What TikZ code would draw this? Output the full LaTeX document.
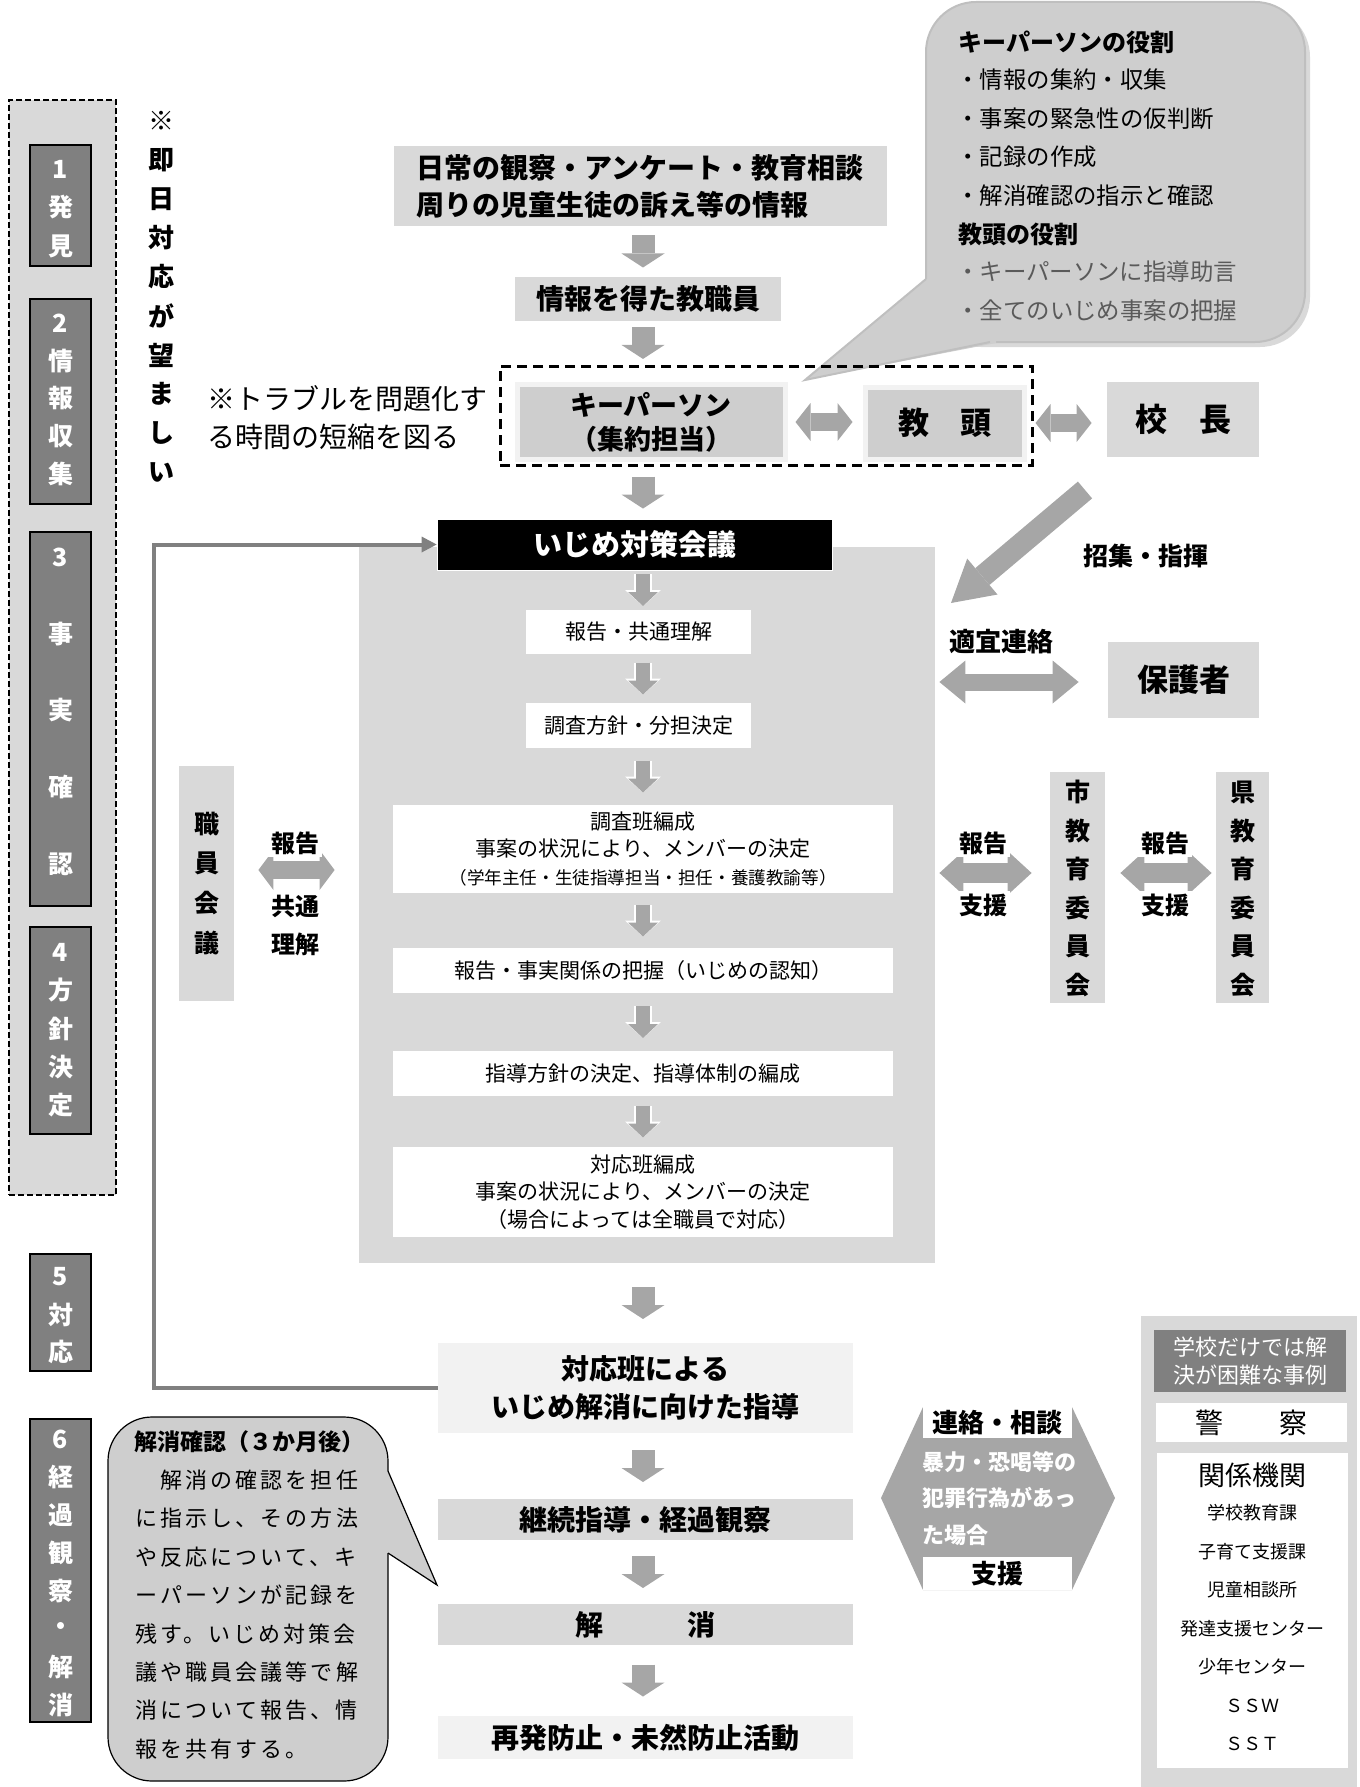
\documentclass[tikz,border=0pt]{standalone}
\usepackage{fontspec}
\setmainfont{Noto Sans CJK JP}
\newfontfamily\spacedjp{Noto Sans CJK JP}[LetterSpace=14]
\usetikzlibrary{arrows.meta,calc}

\definecolor{panelgray}{RGB}{217,217,217}
\definecolor{boxgray}{RGB}{206,206,206}
\definecolor{arrowgray}{RGB}{166,166,166}
\definecolor{stagegray}{RGB}{128,128,128}
\definecolor{palegray}{RGB}{242,242,242}
\definecolor{notegray}{RGB}{90,90,90}

\newcommand\jsize[2]{\fontsize{#1pt}{#2pt}\selectfont}

\tikzset{
	boxsize/.style 2 args={minimum width=#1*0.5pt, minimum height=#2*0.5pt},
	plainbox/.style={rectangle, inner sep=0pt, align=center},
	greybox/.style={plainbox, fill=panelgray, font=\jsize{14}{18.5}\bfseries},
	palebox/.style={plainbox, fill=palegray, font=\jsize{14}{19}\bfseries},
	whitebox/.style={plainbox, fill=white, font=\jsize{10.5}{13.75}},
	framebox/.style={plainbox, fill=boxgray, draw=palegray, line width=2.5pt, font=\jsize{13.5}{17}\bfseries},
	stagebox/.style={plainbox, fill=stagegray, draw=black, line width=1pt, minimum width=30.5pt},
	stagetext/.style={text=white, inner sep=0pt, font=\jsize{12.5}{15}\bfseries},
	vtext/.style={inner sep=0pt, font=\jsize{12.5}{15}\bfseries},
	arrlabel/.style={fill=white, inner sep=1.5pt, font=\jsize{12}{15}\bfseries},
	roletitle/.style={anchor=west, inner sep=0pt, font=\jsize{12}{15}\bfseries},
	roleitem/.style={anchor=west, inner sep=0pt, font=\jsize{11.7}{15}},
	mainarr/.style={draw=arrowgray, line width=11.5pt, arrows={-Triangle[length=7pt,width=21.5pt,line width=0pt]}},
	smallarr/.style={draw=arrowgray, line width=7pt, arrows={-Triangle[length=7pt,width=15pt,line width=0pt]},
		preaction={draw=white, line width=9pt, arrows={-Triangle[length=8pt,width=18pt,line width=0pt]}}},
	dblarr/.style n args={3}{draw=arrowgray, line width=#1,
		arrows={Triangle[length=#3,width=#2,line width=0pt]-Triangle[length=#3,width=#2,line width=0pt]}},
	bigarr/.style={draw=arrowgray, line width=11pt, arrows={-Triangle[length=20.5pt,width=23.5pt,line width=0pt]}},
	fbline/.style={draw=stagegray, line width=2pt, arrows={-Triangle[length=7.5pt,width=8pt,line width=0pt]}},
}

\begin{document}
\begin{tikzpicture}[x=0.5pt, y=-0.5pt]
	\useasboundingbox (0,0) rectangle (1359,1787);

	% \drawstage#name#top#bottom#first#pitch#chars
	\def\drawstage#1#2#3#4#5#6{
		\node[stagebox, minimum height={(#3-#2)*0.5pt}] (#1) at (60.5, {(#2+#3)/2}) {};
		\foreach \c [count=\i] in {#6}
			\node[stagetext] (#1-\i) at (60.5, {#4+(\i-1)*#5}) {\c};
	}

	% \flowarrow#style#from#to
	\def\flowarrow#1#2#3{
		\draw[#1] ($(col |- #2.south)!.5!(col |- #3.north)$) ++(0,-16) -- ++(0,32);
	}

	\coordinate (col) at (643,0);

	% stages
	\node[plainbox, fill=panelgray, draw=black, line width=0.75pt, dash pattern=on 3pt off 1.5pt, boxsize={107}{1095}] (steps) at (62.5,647.5) {};
	\drawstage{stage1}{145}{266}{169}{38.5}{1,発,見}
	\drawstage{stage2}{299}{504}{323}{37.75}{2,情,報,収,集}
	\drawstage{stage3}{532}{906}{557}{76.75}{3,事,実,確,認}
	\drawstage{stage4}{927}{1134}{952}{38.25}{4,方,針,決,定}
	\drawstage{stage5}{1254}{1371}{1277}{37.5}{5,対,応}
	\drawstage{stage6}{1419}{1722}{1439}{38}{6,経,過,観,察,・,解,消}

	\foreach \c [count=\i] in {※,即,日,対,応,が,望,ま,し,い}
		\node[vtext, font=\jsize{13}{15}\bfseries] (soon-\i) at (161, {121+(\i-1)*39}) {\c};

	% role bubble
	\fill[black!15, rounded corners=25pt] (931,7) rectangle (1310,347);
	\filldraw[fill=boxgray, draw=black!25, line width=1pt, rounded corners=25pt] (926,2) rectangle (1305,342);
	\fill[boxgray] (933,279) -- (926,279) -- (805,380) -- (996,343) -- (996,335) -- cycle;
	\draw[black!25, line width=1pt] (926,279) -- (805,380) -- (990,342);
	\node[roletitle] (kprole) at (958,42) {キーパーソンの役割};
	\foreach \t [count=\i] in {・情報の集約・収集,・事案の緊急性の仮判断,・記録の作成,・解消確認の指示と確認}
		\node[roleitem] (kprole-\i) at (956, {80+(\i-1)*38.4}) {\t};
	\node[roletitle] (vprole) at (958,234) {教頭の役割};
	\foreach \t [count=\i] in {・キーパーソンに指導助言,・全てのいじめ事案の把握}
		\node[roleitem, text=notegray] (vprole-\i) at (956, {272+(\i-1)*38.7}) {\t};

	% upper flow
	\node[greybox, boxsize={493}{80}, align=left] (obs) at (640,186) {日常の観察・アンケート・教育相談\\周りの児童生徒の訴え等の情報};
	\node[greybox, boxsize={266}{44}] (staff) at (648,299) {情報を得た教職員};
	\node[framebox, boxsize={268}{75}] (kp) at (651,422) {キーパーソン\\（集約担当）};
	\node[framebox, boxsize={159}{72}, font=\jsize{15.5}{19}\bfseries] (vp) at (944.5,423) {教　頭};
	\node[plainbox, draw=black, line width=1.5pt, dash pattern=on 5pt off 3pt, boxsize={532}{99}] (kpgroup) at (766,415.5) {};
	\node[greybox, boxsize={152}{75}, font=\jsize{16}{19}\bfseries] (principal) at (1183,419.5) {校　長};
	\node[anchor=west, align=left, inner sep=0pt, font=\jsize{14}{19}] (trouble) at (207,418) {※トラブルを問題化す\\る時間の短縮を図る};

	\draw[dblarr={9pt}{19pt}{7.5pt}, shorten <=4pt, shorten >=5pt] (kp) -- (kp -| vp.west);
	\draw[dblarr={9pt}{19pt}{7.5pt}, shorten <=4.5pt, shorten >=7.5pt] (vp) -- (vp -| principal.west);

	% meeting panel
	\node[plainbox, fill=panelgray, boxsize={576}{716}] (panel) at (647,905) {};
	\node[plainbox, fill=black, draw=white, text=white, font=\jsize{14.5}{18}\bfseries, boxsize={395}{51}] (meet) at (634.5,544.5) {いじめ対策会議};
	\node[whitebox, boxsize={225}{44}] (r1) at (638.5,632) {報告・共通理解};
	\node[whitebox, boxsize={225}{45}] (r2) at (638.5,725.5) {調査方針・分担決定};
	\node[whitebox, boxsize={500}{88}] (r3) at (643,849) {調査班編成\\事案の状況により、メンバーの決定\\{\jsize{8.8}{12}（学年主任・生徒指導担当・担任・養護教諭等）}};
	\node[whitebox, boxsize={500}{45}] (r4) at (643,970.5) {報告・事実関係の把握（いじめの認知）};
	\node[whitebox, boxsize={500}{45}] (r5) at (643,1073.5) {指導方針の決定、指導体制の編成};
	\node[whitebox, boxsize={500}{90}] (r6) at (643,1192) {対応班編成\\事案の状況により、メンバーの決定\\（場合によっては全職員で対応）};

	% lower flow
	\node[palebox, boxsize={415}{90}] (taiou) at (645.5,1388) {対応班による\\いじめ解消に向けた指導};
	\node[greybox, boxsize={415}{41}] (keizoku) at (645.5,1519.5) {継続指導・経過観察};
	\node[greybox, boxsize={415}{41}] (kaisho) at (645.5,1624.5) {解　　　消};
	\node[palebox, boxsize={415}{43}] (saihatsu) at (645.5,1737.5) {再発防止・未然防止活動};

	\flowarrow{mainarr}{obs}{staff}
	\flowarrow{mainarr}{staff}{kpgroup}
	\flowarrow{mainarr}{kpgroup}{meet}
	\flowarrow{smallarr}{meet}{r1}
	\flowarrow{smallarr}{r1}{r2}
	\flowarrow{smallarr}{r2}{r3}
	\flowarrow{smallarr}{r3}{r4}
	\flowarrow{smallarr}{r4}{r5}
	\flowarrow{smallarr}{r5}{r6}
	\flowarrow{mainarr}{panel}{taiou}
	\flowarrow{mainarr}{taiou}{keizoku}
	\flowarrow{mainarr}{keizoku}{kaisho}
	\flowarrow{mainarr}{kaisho}{saihatsu}

	\draw[fbline] (taiou.west) -- ++(-284,0) |- (meet.west);

	% staff meeting
	\node[greybox, boxsize={55}{235}] (kaigi) at (206.5,883.5) {};
	\foreach \c [count=\i] in {職,員,会,議}
		\node[vtext] (kaigi-\i) at (206.5, {824+(\i-1)*39.7}) {\c};
	\draw[dblarr={9pt}{20pt}{7.5pt}, shorten <=12pt, shorten >=12pt] ($(kaigi.east)+(0,-13.5)$) -- ($(kaigi.east -| panel.west)+(0,-13.5)$);
	\node[arrlabel] (kaigi-rep) at (295,843) {報告};
	\node[vtext, align=center, font=\jsize{12}{19}\bfseries] (kaigi-share) at (295,925) {共通\\理解};

	% principal, parents, boards
	\coordinate (cmdtail) at (1085,490);
	\coordinate (cmdtip) at (951,603);
	\draw[bigarr] (cmdtail) -- (cmdtip);
	\node[vtext] (cmdlabel) at (1146,556) {招集・指揮};

	\node[greybox, boxsize={151}{76}, font=\jsize{15.5}{19}\bfseries] (parents) at (1183.5,680) {保護者};
	\draw[dblarr={8.5pt}{21.5pt}{13pt}, shorten <=2pt, shorten >=14.5pt] ($(panel.east |- parents)+(0,2)$) -- ($(parents.west)+(0,2)$);
	\node[vtext, font=\jsize{13}{15}\bfseries] (contact-parents) at (1001,642) {適宜連絡};

	\node[greybox, boxsize={55}{231}] (cityboe) at (1077.5,887.5) {};
	\foreach \c [count=\i] in {市,教,育,委,員,会}
		\node[vtext] (cityboe-\i) at (1077.5, {792+(\i-1)*38.6}) {\c};
	\node[greybox, boxsize={53}{231}] (prefboe) at (1242.5,887.5) {};
	\foreach \c [count=\i] in {県,教,育,委,員,会}
		\node[vtext] (prefboe-\i) at (1242.5, {792+(\i-1)*38.6}) {\c};

	\draw[dblarr={10pt}{22pt}{12pt}, shorten <=2pt, shorten >=9pt] ($(panel.east |- cityboe)+(0,-14.5)$) -- ($(cityboe.west)+(0,-14.5)$);
	\draw[dblarr={10pt}{22pt}{12pt}, shorten <=7.5pt, shorten >=2pt] ($(cityboe.east)+(0,-14.5)$) -- ($(prefboe.west)+(0,-14.5)$);
	\node[arrlabel] (city-rep) at (983,843) {報告};
	\node[arrlabel] (city-sup) at (983,905) {支援};
	\node[arrlabel] (pref-rep) at (1165,843) {報告};
	\node[arrlabel] (pref-sup) at (1165,905) {支援};

	% outside agencies
	\fill[arrowgray] (881,1498) -- (923,1407) -- (1072,1407) -- (1115,1498) -- (1072,1590) -- (923,1590) -- cycle;
	\node[plainbox, fill=white, font=\jsize{13}{16}\bfseries, boxsize={149}{31}] (contact) at (997.5,1422.5) {連絡・相談};
	\node[plainbox, fill=white, font=\jsize{13}{16}\bfseries, boxsize={149}{33}] (support) at (997.5,1573.5) {支援};
	\foreach \t [count=\i] in {暴力・恐喝等の,犯罪行為があっ,た場合}
		\node[anchor=west, text=white, inner sep=0pt, font=\jsize{11}{14}\bfseries] (crime-\i) at (922, {1462+(\i-1)*36.5}) {\t};

	\node[plainbox, fill=panelgray, boxsize={216}{471}] (outside) at (1249,1551.5) {};
	\node[plainbox, fill=stagegray, text=white, font=\jsize{11}{14}, boxsize={192}{62}] (hardcase) at (1250,1361) {学校だけでは解\\決が困難な事例};
	\node[plainbox, fill=white, font=\jsize{14}{17}, boxsize={191}{39}] (police) at (1251.5,1422.5) {警　　察};
	\node[plainbox, fill=white, boxsize={191}{315}] (agencies) at (1252.5,1610.5) {};
	\node[inner sep=0pt, font=\jsize{13.5}{16}] (agencies-title) at (1252.5,1475) {関係機関};
	\foreach \t [count=\i] in {学校教育課,子育て支援課,児童相談所,発達支援センター,少年センター,ＳＳＷ,ＳＳＴ}
		\node[inner sep=0pt, font=\jsize{9}{11}] (agency-\i) at (1252.5, {1513+(\i-1)*38.5}) {\t};

	% resolution bubble
	\filldraw[fill=boxgray, draw=black, line width=0.6pt, rounded corners=22pt] (108,1417) rectangle (388,1781);
	\fill[boxgray] (381,1471) -- (388,1471) -- (437,1585) -- (388,1553) -- (381,1553) -- cycle;
	\draw[black, line width=0.6pt] (388,1471) -- (437,1585) -- (388,1553);
	\node[anchor=west, inner sep=0pt, font=\jsize{11.5}{14}\bfseries] (check-title) at (134,1442) {解消確認（３か月後）};
	\foreach \t [count=\i] in {　解消の確認を担任,に指示し、その方法,や反応について、キ,ーパーソンが記録を,残す。いじめ対策会,議や職員会議等で解,消について報告、情,報を共有する。}
		\node[anchor=west, inner sep=0pt, font=\spacedjp\jsize{11}{14}] (check-\i) at (135, {1480+(\i-1)*38.4}) {\t};
\end{tikzpicture}
\end{document}
